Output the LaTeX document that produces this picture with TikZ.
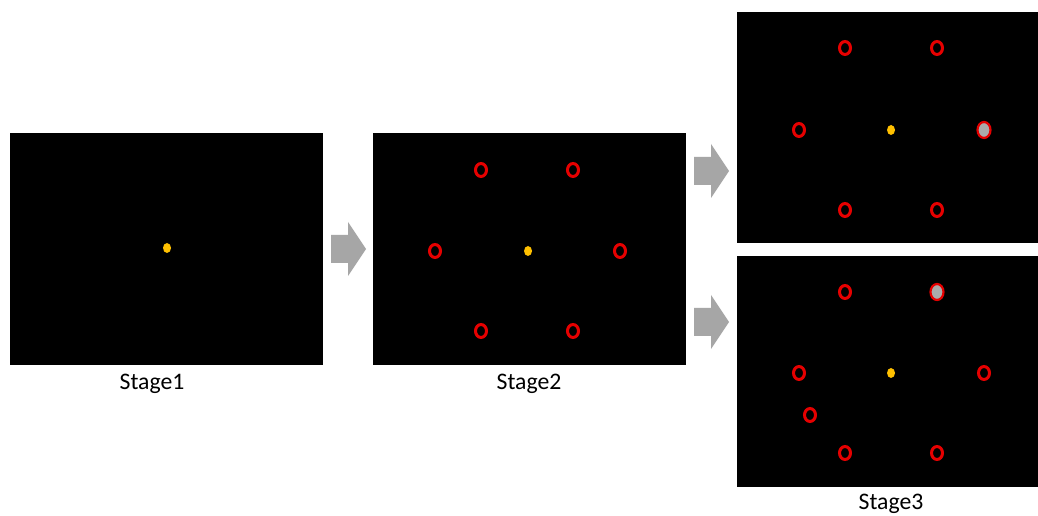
\documentclass[tikz,border=0pt]{standalone}
\usepackage{fontspec}
\setmainfont{Carlito}
\begin{document}
\begin{tikzpicture}[x=0.02cm,y=-0.02cm,
  panel/.style={fill=black,draw=none},
  ring/.style={draw={rgb,255:red,230;green,0;blue,0},line width=3*0.567pt},
  hitring/.style={draw={rgb,255:red,230;green,0;blue,0},line width=2.2*0.567pt,fill={rgb,255:red,170;green,170;blue,170}},
  dot/.style={fill={rgb,255:red,255;green,192;blue,0},draw=none},
  bigarrow/.style={fill={rgb,255:red,166;green,166;blue,166},draw=none},
  lab/.style={font=\fontsize{13.5}{15}\selectfont,text=black}]
\useasboundingbox (0,0) rectangle (1038,516);
\fill[white] (0,0) rectangle (1038,516);
% panels
\fill[panel] (10,133) rectangle (323,365);
\fill[panel] (373,133) rectangle (686,365);
\fill[panel] (737,12) rectangle (1038,243);
\fill[panel] (737,256) rectangle (1038,487);
% labels
\node[lab] (l1) at (152,384) {Stage1};
\node[lab] (l2) at (529,384) {Stage2};
\node[lab] (l3) at (891,504) {Stage3};
% arrows
\newcommand{\bigarr}[3]{% x0, yc, scale
  \fill[bigarrow] (#1,#2-14) -- (#1+17,#2-14) -- (#1+17,#2-27) -- (#1+35,#2) -- (#1+17,#2+27) -- (#1+17,#2+14) -- (#1,#2+14) -- cycle;}
\bigarr{331}{249}{1}
\bigarr{694}{171}{1}
\bigarr{694}{322}{1}
% stage 1
\fill[dot] (167,248) ellipse [x radius=4, y radius=5];
% stage 2
\fill[dot] (528,251) ellipse [x radius=4, y radius=5];
\foreach \p in {(481,170),(573,170),(435,251),(620,251),(481,331),(573,331)}
  \draw[ring] \p ellipse [x radius=5.5, y radius=6.5];
% stage 3 top
\fill[dot] (891,130) ellipse [x radius=4, y radius=5];
\foreach \p in {(845,48),(937,48),(799,130),(845,210),(937,210)}
  \draw[ring] \p ellipse [x radius=5.5, y radius=6.5];
\draw[hitring] (984,130) ellipse [x radius=6.5, y radius=8];
% stage 3 bottom
\fill[dot] (891,373) ellipse [x radius=4, y radius=5];
\foreach \p in {(845,292),(799,373),(984,373),(810,415),(845,453),(937,453)}
  \draw[ring] \p ellipse [x radius=5.5, y radius=6.5];
\draw[hitring] (937,292) ellipse [x radius=6.5, y radius=8];
\end{tikzpicture}
\end{document}
